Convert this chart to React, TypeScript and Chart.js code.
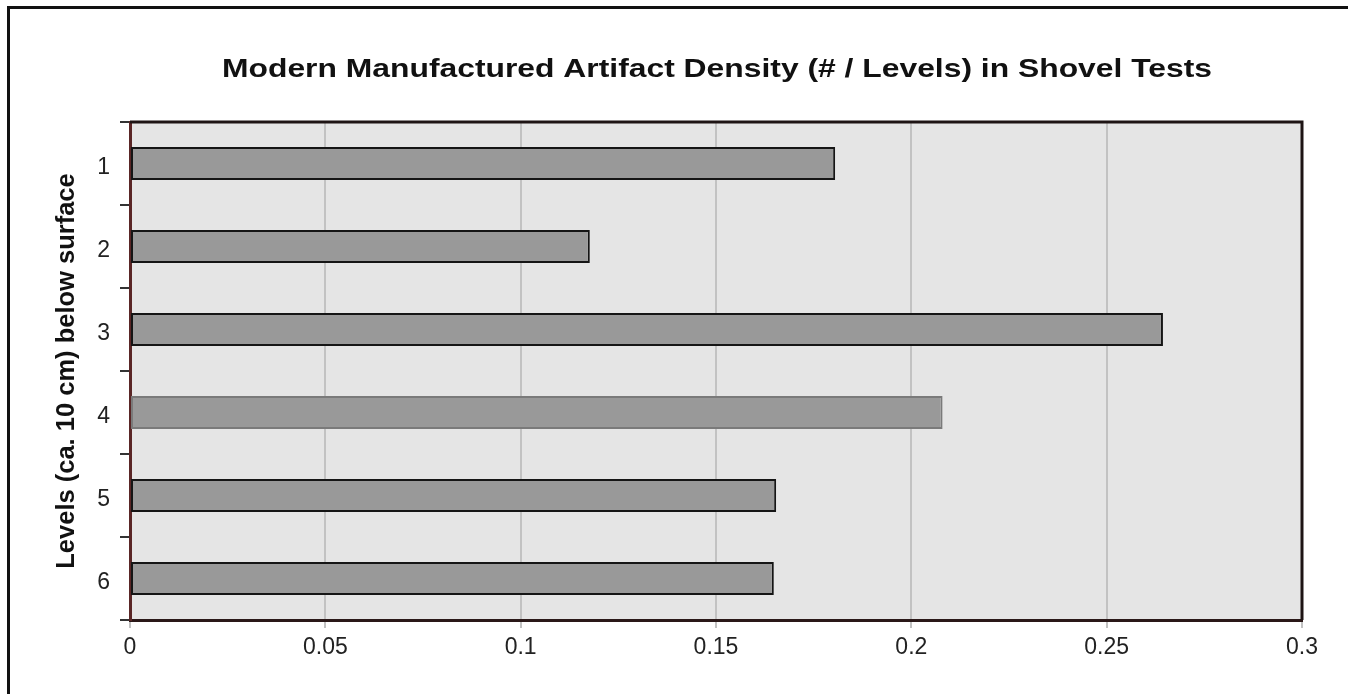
import React, { useEffect, useRef } from "react";
import { Chart, registerables } from "chart.js";

Chart.register(...registerables);

const categories = ["1", "2", "3", "4", "5", "6"];
const densityValues = [0.1805, 0.1177, 0.2644, 0.208, 0.1654, 0.1648];
const xTickValues = [0, 0.05, 0.1, 0.15, 0.2, 0.25, 0.3];
const chartTitle = "Modern Manufactured Artifact Density (# / Levels) in Shovel Tests";
const yAxisTitle = "Levels (ca. 10 cm) below surface";

const FONT = "'Liberation Sans', Arial, Helvetica, sans-serif";

const frameAreaPlugin = {
  id: "frameArea",
  beforeDraw(chart: any) {
    const { ctx, chartArea } = chart;
    ctx.save();
    ctx.fillStyle = "#e5e5e5";
    ctx.fillRect(chartArea.left, chartArea.top, chartArea.right - chartArea.left, chartArea.bottom - chartArea.top);
    ctx.restore();
  },
  afterDraw(chart: any) {
    const { ctx, chartArea } = chart;
    ctx.save();
    ctx.strokeStyle = "#1e1414";
    ctx.lineWidth = 3;
    ctx.beginPath();
    ctx.moveTo(chartArea.left, chartArea.top);
    ctx.lineTo(chartArea.right, chartArea.top);
    ctx.lineTo(chartArea.right, chartArea.bottom);
    ctx.stroke();
    ctx.restore();

    // title: horizontally stretched bold sans, like the reference
    ctx.save();
    ctx.fillStyle = "#111111";
    ctx.font = `bold 26px ${FONT}`;
    ctx.textAlign = "center";
    ctx.textBaseline = "middle";
    const cx = (chartArea.left + chartArea.right) / 2 + 1;
    const natural = ctx.measureText(chartTitle).width;
    const sx = 990 / natural;
    ctx.translate(cx, 70);
    ctx.scale(sx, 1);
    ctx.fillText(chartTitle, 0, 0);
    ctx.restore();
  },
};

export default function App() {
  const canvasRef = useRef<HTMLCanvasElement | null>(null);

  useEffect(() => {
    if (!canvasRef.current) return;
    const chart = new Chart(canvasRef.current, {
      type: "bar",
      data: {
        labels: categories,
        datasets: [
          {
            data: densityValues,
            backgroundColor: "#999999",
            borderColor: ["#151515", "#151515", "#151515", "#7a7a7a", "#151515", "#151515"],
            borderWidth: 2,
            borderSkipped: false,
            barPercentage: 0.4,
            categoryPercentage: 1,
          },
        ],
      },
      options: {
        indexAxis: "y",
        animation: false,
        responsive: false,
        maintainAspectRatio: false,
        layout: { padding: { left: 50, right: 46, top: 122, bottom: 0 } },
        plugins: {
          legend: { display: false },
          tooltip: { enabled: false },
          title: { display: false },
        },
        scales: {
          x: {
            type: "linear",
            min: 0,
            max: 0.3,
            afterBuildTicks(scale: any) {
              scale.ticks = xTickValues.map((v) => ({ value: v }));
            },
            afterFit(scale: any) {
              scale.height = 74;
            },
            ticks: {
              color: "#222222",
              font: { family: FONT, size: 23 },
              padding: 6,
              callback: (v: any) => String(Math.round(Number(v) * 100) / 100),
            },
            grid: {
              color: "#c2c2c2",
              lineWidth: 2,
              tickLength: 8,
              drawTicks: true,
            },
            border: { color: "#2a1818", width: 3 },
          },
          y: {
            type: "category",
            afterFit(scale: any) {
              scale.width = 80;
            },
            ticks: {
              color: "#222222",
              font: { family: FONT, size: 23 },
              padding: 10,
              labelOffset: 4,
            },
            grid: {
              drawOnChartArea: false,
              drawTicks: true,
              tickLength: 10,
              color: "#333333",
              lineWidth: 2,
              offset: true,
            },
            border: { color: "#5a2626", width: 3 },
            title: {
              display: true,
              text: yAxisTitle,
              color: "#111111",
              font: { family: FONT, size: 25.5, weight: "bold" },
              padding: 2,
            },
          },
        },
      },
      plugins: [frameAreaPlugin],
    } as any);
    return () => chart.destroy();
  }, []);

  return (
    <div style={{ position: "fixed", left: 0, top: 0, width: 1348, height: 694, overflow: "hidden", background: "#ffffff" }}>
      <div
        style={{
          position: "absolute",
          left: 7,
          top: 6,
          width: 1500,
          height: 900,
          borderLeft: "3px solid #111111",
          borderTop: "3px solid #111111",
        }}
      />
      <canvas ref={canvasRef} width={1348} height={694} style={{ position: "absolute", left: 0, top: 0, width: 1348, height: 694 }} />
    </div>
  );
}
